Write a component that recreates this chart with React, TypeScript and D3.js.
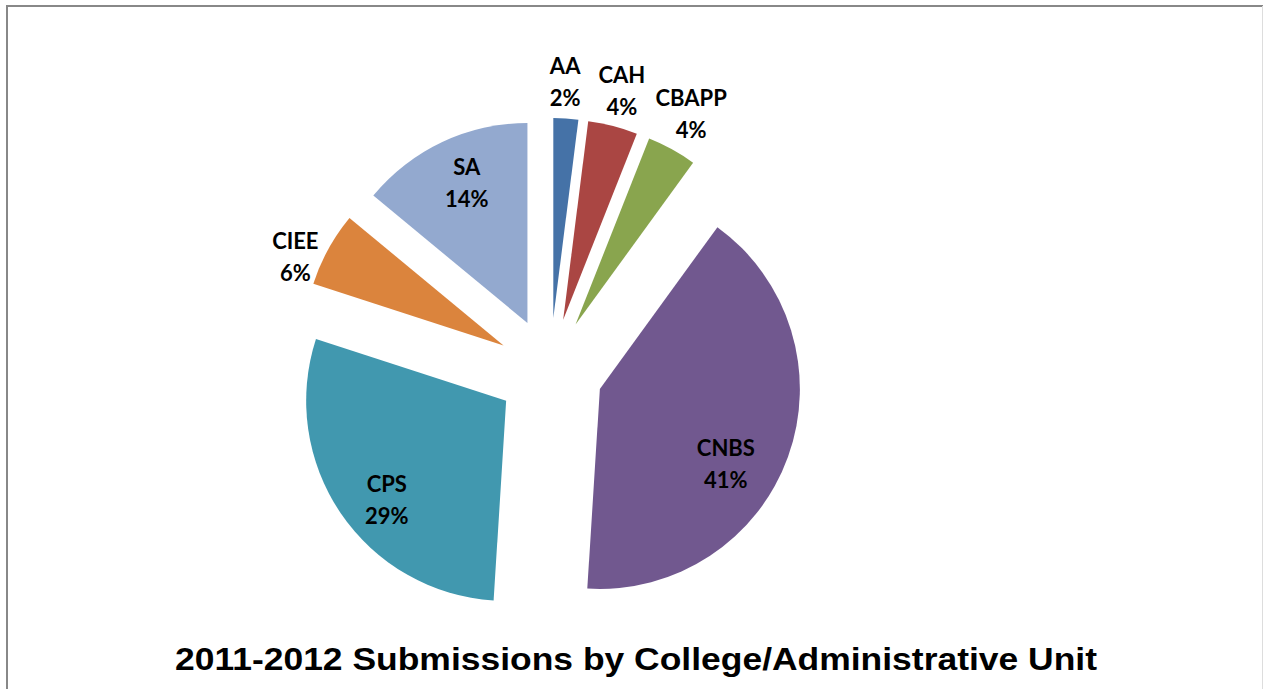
import React from "react";
import * as d3 from "d3";

// ---- data ----
const categories = ["AA", "CAH", "CBAPP", "CNBS", "CPS", "CIEE", "SA"];
const shares = [2, 4, 4, 41, 29, 6, 14];
const colors = ["#4572A7", "#AA4643", "#89A54E", "#71588F", "#4198AF", "#DB843D", "#93A9CF"];
const title = "2011-2012 Submissions by College/Administrative Unit";

// ---- layout (label placement relative to pie center) ----
const labelDist = [289, 289, 293, 199, 208, 279, 206];
const labelAngleShift = [-0.6, 0, 0, 8.1, -4.1, -4.7, 1.4];

const W = 1263;
const H = 689;
const CX = 550;
const CY = 371;
const R = 200;
const EXPLODE = 53;

export default function App() {
  const data = categories.map((c, i) => ({ name: c, value: shares[i], color: colors[i], i }));
  const pie = d3.pie<any>().value((d) => d.value).sort(null).startAngle(0).endAngle(2 * Math.PI);
  const arcs = pie(data);
  const arc = d3.arc<any>().innerRadius(0).outerRadius(R);
  const total = d3.sum(shares);

  return (
    <svg
      width={W}
      height={H}
      style={{ position: "absolute", left: 0, top: 0, background: "#fff" }}
    >
      <rect x={0} y={0} width={W} height={H} fill="#fff" />
      {/* chart border */}
      <line x1={7} y1={5} x2={7} y2={H} stroke="#888" strokeWidth={2} />
      <line x1={6} y1={6} x2={1263} y2={6} stroke="#888" strokeWidth={2} />
      <line x1={1262.5} y1={6} x2={1262.5} y2={H} stroke="#ddd" strokeWidth={1} />
      <g transform={`translate(${CX},${CY})`}>
        {arcs.map((a, k) => {
          const mid = (a.startAngle + a.endAngle) / 2;
          const dx = Math.sin(mid) * EXPLODE;
          const dy = -Math.cos(mid) * EXPLODE;
          return (
            <path
              key={k}
              d={arc(a) as string}
              transform={`translate(${dx},${dy})`}
              fill={a.data.color}
            />
          );
        })}
        {arcs.map((a, k) => {
          const mid = (a.startAngle + a.endAngle) / 2 + (labelAngleShift[k] * Math.PI) / 180;
          const x = Math.sin(mid) * labelDist[k];
          const y = -Math.cos(mid) * labelDist[k];
          const pct = Math.round((a.data.value / total) * 100) + "%";
          return (
            <text
              key={"l" + k}
              x={x}
              y={y}
              textAnchor="middle"
              fontFamily="Lato, 'Open Sans', sans-serif"
              fontWeight="bold"
              fontSize={22}
              fill="#000"
            >
              <tspan x={x} dy={-8}>{a.data.name}</tspan>
              <tspan x={x} dy={32}>{pct}</tspan>
            </text>
          );
        })}
      </g>
      <text
        x={636}
        y={670}
        textAnchor="middle"
        fontFamily="'Liberation Sans', Arial, sans-serif"
        fontWeight="bold"
        fontSize={31}
        textLength={922}
        lengthAdjust="spacingAndGlyphs"
        fill="#000"
      >
        {title}
      </text>
    </svg>
  );
}
